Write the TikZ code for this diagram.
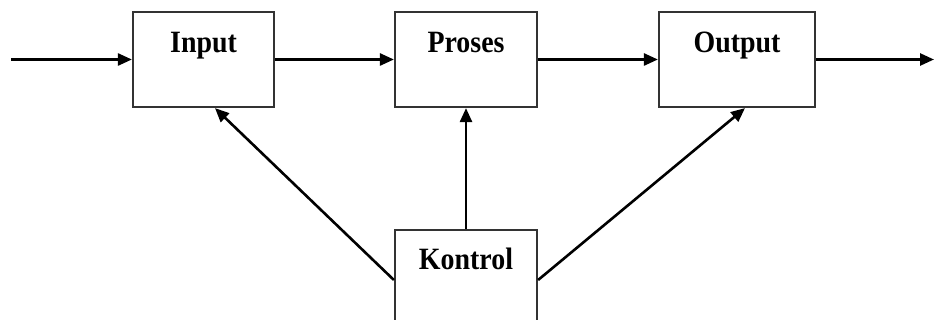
\documentclass[tikz,border=0pt]{standalone}
\usepackage{fontspec}
\setmainfont{Liberation Serif}
\usetikzlibrary{arrows.meta,calc}
\begin{document}
\begin{tikzpicture}[x=1pt,y=-1pt,
  blockbox/.style={draw=black!80,line width=2.2pt,fill=white,inner sep=0pt,
    minimum height=95pt},
  blocklabel/.style={anchor=base,inner sep=0pt,xscale=0.9,
    font=\fontsize{31}{31}\selectfont\bfseries},
  arr/.style={line width=2.6pt,-{Triangle[length=14pt,width=12pt]}}]
\useasboundingbox (0,0) rectangle (934,320);
\clip (0,0) rectangle (934,320);
% main chain of blocks
\node[blockbox,minimum width=141pt] (input)  at (203.5,59.5) {};
\node[blockbox,minimum width=142pt] (proses) at (466,59.5) {};
\node[blockbox,minimum width=156pt] (output) at (737,59.5) {};
\node[blockbox,minimum width=142pt] (kontrol) at (466,277.5) {};
% block titles
\node[blocklabel] (inputlbl)   at ($(input.north)+(0,42)$)   {Input};
\node[blocklabel] (proseslbl)  at ($(proses.north)+(0,42)$)  {Proses};
\node[blocklabel] (outputlbl)  at ($(output.north)+(0,42)$)  {Output};
\node[blocklabel] (kontrollbl) at ($(kontrol.north)+(0,41)$) {Kontrol};
% free ends of the flow
\coordinate (src) at (11,59.5);
\coordinate (dst) at (934,59.5);
% flow
\draw[arr] (src) -- (input.west);
\draw[arr] (input.east) -- (proses.west);
\draw[arr] (proses.east) -- (output.west);
\draw[arr] (output.east) -- (dst);
% control links
\draw[arr] ([yshift=-2.5pt]kontrol.west) -- ([xshift=11.5pt]input.south);
\draw[arr] (kontrol.north) -- (proses.south);
\draw[arr] ([yshift=-2.5pt]kontrol.east) -- ([xshift=8pt]output.south);
\end{tikzpicture}
\end{document}
